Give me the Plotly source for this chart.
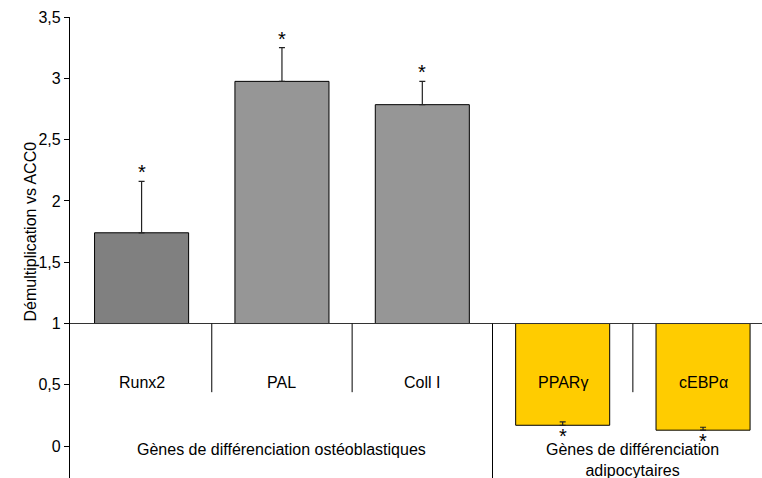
import plotly.graph_objects as go

# données (démultiplication vs ACC0, base = 1)
categories = ["Runx2", "PAL", "Coll I", "PPARγ", "cEBPα"]
fold_change = [1.74, 2.975, 2.785, 0.17, 0.13]
err_plus = [0.42, 0.275, 0.19, 0.027, 0.024]
bar_colors = ["#808080", "#969696", "#969696", "#FFCC00", "#FFCC00"]
group_labels = ["Gènes de différenciation ostéoblastiques", "Gènes de différenciation<br>adipocytaires"]
group_members = [[0, 1, 2], [3, 4]]
y_ticks = [0, 0.5, 1, 1.5, 2, 2.5, 3, 3.5]
BASELINE = 1.0

FONT = "Liberation Sans, Arial, sans-serif"

x_idx = list(range(len(categories)))
rel = [v - BASELINE for v in fold_change]

fig = go.Figure()

fig.add_trace(
    go.Bar(
        x=x_idx,
        y=rel,
        base=BASELINE,
        width=0.67,
        marker=dict(color=bar_colors, line=dict(color="#000000", width=1)),
        error_y=dict(
            type="data",
            symmetric=False,
            array=err_plus,
            arrayminus=[0] * len(err_plus),
            color="#222222",
            thickness=1.2,
            width=3,
        ),
        showlegend=False,
        hoverinfo="skip",
    )
)

annotations = []

# astérisques : au-dessus de la barre d'erreur (barres positives), sous la barre (négatives)
for i, v in enumerate(fold_change):
    if v >= BASELINE:
        annotations.append(dict(x=i, y=v + err_plus[i], text="*", showarrow=False,
                                yanchor="bottom", yshift=-4,
                                font=dict(size=20, family=FONT, color="#000")))
    else:
        annotations.append(dict(x=i, y=v, text="*", showarrow=False,
                                yanchor="top", yshift=2, height=12, valign="top",
                                font=dict(size=20, family=FONT, color="#000")))

# noms des gènes
for i, name in enumerate(categories):
    annotations.append(dict(x=i, y=0.52, text=name, showarrow=False,
                            font=dict(size=16, family=FONT, color="#000")))

# noms des groupes
for label, members in zip(group_labels, group_members):
    cx = sum(members) / len(members)
    annotations.append(dict(x=cx, y=0.055, text=label, showarrow=False,
                            yanchor="top",
                            font=dict(size=16, family=FONT, color="#000")))

# titre de l'axe y
annotations.append(dict(xref="paper", yref="paper", x=-0.072, y=0.534,
                        text="Démultiplication vs ACC0", textangle=-90,
                        showarrow=False,
                        font=dict(size=16, family=FONT, color="#000")))

shapes = [
    # ligne de base à 1
    dict(type="line", xref="paper", yref="y", x0=0, x1=1, y0=BASELINE, y1=BASELINE,
         line=dict(color="#333333", width=1.2)),
]
# séparateurs entre catégories
last_of_group = [members[-1] for members in group_members[:-1]]
for i in range(len(categories) - 1):
    if i in last_of_group:
        shapes.append(dict(type="line", xref="x", yref="paper", x0=i + 0.5, x1=i + 0.5,
                           y0=0, y1=(BASELINE + 0.26) / 3.76,
                           line=dict(color="#000", width=1)))
    else:
        shapes.append(dict(type="line", xref="x", yref="y", x0=i + 0.5, x1=i + 0.5,
                           y0=0.44, y1=BASELINE,
                           line=dict(color="#000", width=1)))

fig.update_layout(
    width=762,
    height=478,
    margin=dict(l=70, r=0, t=17, b=0),
    paper_bgcolor="white",
    plot_bgcolor="white",
    separators=", ",
    font=dict(family=FONT, size=16, color="#000"),
    xaxis=dict(range=[-0.51, 4.42], showticklabels=False, showgrid=False,
               zeroline=False, showline=False, ticks=""),
    yaxis=dict(range=[-0.26, 3.5], tickvals=y_ticks, showgrid=False, zeroline=False,
               showline=True, linecolor="#000", linewidth=1.2, ticks="outside",
               ticklen=5, tickcolor="#000", tickfont=dict(size=16, family=FONT)),
    annotations=annotations,
    shapes=shapes,
    bargap=0.33,
)

# la page a une marge de 8 px par défaut : on la supprime
fig.write_html("out.html", config={"displayModeBar": False},
               post_script="document.body.style.margin='0px';")
